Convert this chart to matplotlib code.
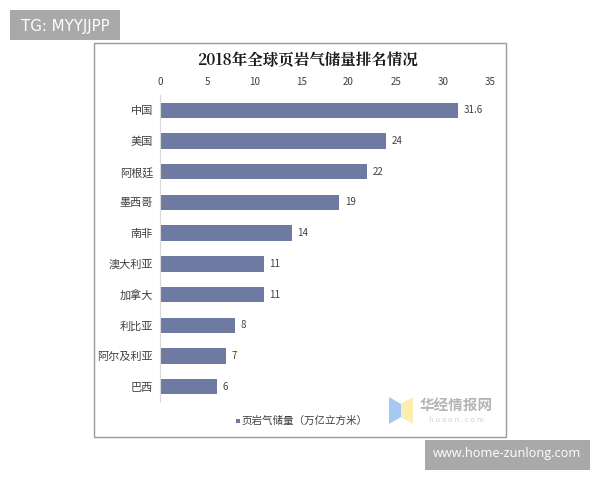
import matplotlib
matplotlib.use("Agg")
import matplotlib.pyplot as plt
from matplotlib.patches import Rectangle, Polygon

countries = ["中国", "美国", "阿根廷", "墨西哥", "南非", "澳大利亚", "加拿大", "利比亚", "阿尔及利亚", "巴西"]
reserves = [31.6, 24, 22, 19, 14, 11, 11, 8, 7, 6]
xticks = [0, 5, 10, 15, 20, 25, 30, 35]
value_labels = ["31.6", "24", "22", "19", "14", "11", "11", "8", "7", "6"]

plt.rcParams["font.family"] = ["Noto Sans CJK SC", "DejaVu Sans"]

W, H = 600, 480
fig = plt.figure(figsize=(6, 4.8), dpi=100, facecolor="white")


def px_rect(x0, y0, x1, y1, **kw):
    # pixel coords from the top left of the image
    fig.add_artist(Rectangle((x0 / W, 1 - y1 / H), (x1 - x0) / W, (y1 - y0) / H,
                             transform=fig.transFigure, **kw))


def px_text(x, y, s, **kw):
    fig.text(x / W, 1 - y / H, s, **kw)


# chart frame and the two grey watermark boxes
px_rect(94, 43, 506, 437, facecolor="white", edgecolor="#9a9a9a", linewidth=1.0, zorder=-2)
px_rect(10, 10, 120, 40, facecolor="#a9a9a9", edgecolor="none")
px_rect(425, 440, 590, 470, facecolor="#a9a9a9", edgecolor="none")
px_text(65, 26, "TG: MYYJJPP", color="white", fontsize=10.8, ha="center", va="center", family="DejaVu Sans")
px_text(507, 454, "www.home-zunlong.com", color="white", fontsize=9.2, ha="center", va="center", family="Open Sans")

ax = fig.add_axes([160 / W, 1 - 402 / H, 330 / W, 307 / H])
ax.set_zorder(2)
ax.patch.set_alpha(0)
y = list(range(len(countries)))
ax.barh(y, reserves, height=0.5, color="#6f7aa3")
ax.set_xlim(0, 35)
ax.set_ylim(len(countries) - 0.5, -0.5)
ax.set_xticks(xticks)
ax.set_yticks(y)
ax.set_yticklabels(countries, fontsize=8, color="#404040")
ax.xaxis.tick_top()
ax.tick_params(axis="x", length=0, labelsize=7, labelcolor="#404040", pad=6)
ax.tick_params(axis="y", length=0, pad=5)
for s in ["top", "right", "bottom"]:
    ax.spines[s].set_visible(False)
ax.spines["left"].set_color("#d9d9d9")

for yi, v, lab in zip(y, reserves, value_labels):
    ax.annotate(lab, (v, yi), xytext=(4, 0), textcoords="offset points",
                va="center", fontsize=7, color="#404040")

px_text(307, 60, "2018年全球页岩气储量排名情况", fontsize=11.2, fontweight="bold", color="#1a1a1a",
        ha="center", va="center", family=["Noto Serif CJK SC", "Noto Sans CJK SC"])

# legend
px_rect(236, 419, 240, 423, facecolor="#6f7aa3", edgecolor="none")
px_text(241, 421, "页岩气储量（万亿立方米）", fontsize=7.6, color="#404040", va="center")

# huajing logo
fig.add_artist(Polygon([(389 / W, 1 - 397 / H), (401 / W, 1 - 404 / H), (401 / W, 1 - 417 / H), (389 / W, 1 - 424 / H)],
                       transform=fig.transFigure, facecolor="#a5c8f5", edgecolor="none"))
fig.add_artist(Polygon([(401 / W, 1 - 404 / H), (413 / W, 1 - 397 / H), (413 / W, 1 - 424 / H), (401 / W, 1 - 417 / H)],
                       transform=fig.transFigure, facecolor="#fbeeb0", edgecolor="none"))
px_text(456, 405, "华经情报网", fontsize=10.5, color="#b5b5b5", fontweight="bold", ha="center", va="center")
px_text(456, 420, "h u a o n . c o m", fontsize=5.5, color="#d0d0d0", ha="center", va="center")

fig.savefig("out.png", dpi=100)
